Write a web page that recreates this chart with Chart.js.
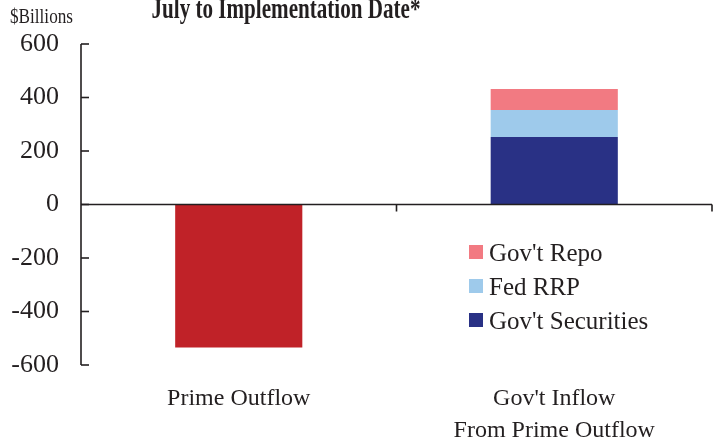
<!DOCTYPE html>
<html>
<head>
<meta charset="utf-8">
<script src="https://cdn.jsdelivr.net/npm/chart.js@4"></script>
<style>
  html,body{margin:0;padding:0;background:#fff;}
  #wrap{width:718px;height:442px;position:relative;}
</style>
</head>
<body>
<div id="wrap"><canvas id="c" width="718" height="442"></canvas></div>
<script>
const categories = [["Prime Outflow"], ["Gov't Inflow", "From Prime Outflow"]];
const primeOutflow = [-535, null];
const govSecurities = [null, 252];
const fedRRP = [null, 101];
const govRepo = [null, 79];
const yTicks = [600, 400, 200, 0, -200, -400, -600];
const titleText = "July to Implementation Date*";
const unitText = "$Billions";

const AXIS = '#231f20';
const SERIF = "'Liberation Serif', 'Times New Roman', serif";

const axesPlugin = {
  id: 'axesPlugin',
  afterDatasetsDraw(chart) {
    const ctx = chart.ctx, a = chart.chartArea;
    const ys = chart.scales.y;
    ctx.save();
    ctx.strokeStyle = AXIS;
    ctx.lineWidth = 1.6;
    // y axis
    ctx.beginPath();
    ctx.moveTo(a.left, ys.getPixelForValue(600));
    ctx.lineTo(a.left, ys.getPixelForValue(-600));
    ctx.stroke();
    yTicks.forEach(v => {
      const py = ys.getPixelForValue(v);
      ctx.beginPath();
      ctx.moveTo(a.left, py);
      ctx.lineTo(a.left + 8, py);
      ctx.stroke();
    });
    // x axis at zero
    const y0 = ys.getPixelForValue(0);
    ctx.beginPath();
    ctx.moveTo(a.left, y0);
    ctx.lineTo(a.right, y0);
    ctx.stroke();
    const n = categories.length;
    for (let i = 1; i <= n; i++) {
      const px = a.left + (a.right - a.left) * i / n;
      ctx.beginPath();
      ctx.moveTo(px, y0);
      ctx.lineTo(px, y0 + 7);
      ctx.stroke();
    }
    ctx.restore();
  },
  afterDraw(chart) {
    const ctx = chart.ctx;
    ctx.save();
    ctx.fillStyle = '#231f20';
    // title (condensed serif bold)
    ctx.font = "bold 29px " + SERIF;
    ctx.textBaseline = 'alphabetic';
    ctx.textAlign = 'center';
    let w = ctx.measureText(titleText).width;
    ctx.save();
    ctx.translate(286, 18);
    ctx.scale(269 / w, 1);
    ctx.fillText(titleText, 0, 0);
    ctx.restore();
    // unit label
    ctx.font = "21px " + SERIF;
    ctx.textAlign = 'left';
    w = ctx.measureText(unitText).width;
    ctx.save();
    ctx.translate(10, 23);
    ctx.scale(63 / w, 1);
    ctx.fillText(unitText, 0, 0);
    ctx.restore();
    // legend (reverse of stacking order)
    const ds = chart.data.datasets.filter(d => d.showInLegend).slice().reverse();
    ctx.font = "25px " + SERIF;
    ctx.textAlign = 'left';
    ds.forEach((d, i) => {
      const cy = 252 + i * 34;
      ctx.fillStyle = d.backgroundColor;
      ctx.fillRect(469, cy - 7, 14, 14);
      ctx.fillStyle = '#231f20';
      ctx.fillText(d.label, 489, cy + 9);
    });
    ctx.restore();
  }
};

new Chart(document.getElementById('c'), {
  type: 'bar',
  data: {
    labels: categories,
    datasets: [
      { label: 'Prime Outflow', data: primeOutflow, backgroundColor: '#c02228', showInLegend: false },
      { label: "Gov't Securities", data: govSecurities, backgroundColor: '#293185', showInLegend: true },
      { label: 'Fed RRP', data: fedRRP, backgroundColor: '#9ecaeb', showInLegend: true },
      { label: "Gov't Repo", data: govRepo, backgroundColor: '#f27a82', showInLegend: true }
    ]
  },
  options: {
    responsive: false,
    animation: false,
    devicePixelRatio: 1,
    layout: { padding: { top: 44, right: 6, left: 0, bottom: 0 } },
    plugins: { legend: { display: false }, tooltip: { enabled: false }, title: { display: false } },
    datasets: { bar: { categoryPercentage: 1, barPercentage: 0.403, borderWidth: 0 } },
    scales: {
      x: {
        stacked: true,
        grid: { display: false, drawTicks: false },
        border: { display: false },
        afterFit(s) { s.height = 77; },
        ticks: { color: '#231f20', padding: 18, maxRotation: 0, autoSkip: false,
          font: { family: SERIF, size: 24, lineHeight: 1.32 } }
      },
      y: {
        stacked: true,
        min: -600, max: 600,
        afterFit(s) { s.width = 81; },
        afterBuildTicks(s) { s.ticks = yTicks.map(v => ({ value: v })); },
        grid: { display: false, drawTicks: false },
        border: { display: false },
        ticks: { color: '#231f20', padding: 22,
          font: { family: SERIF, size: 26 } }
      }
    }
  },
  plugins: [axesPlugin]
});
</script>
</body>
</html>
